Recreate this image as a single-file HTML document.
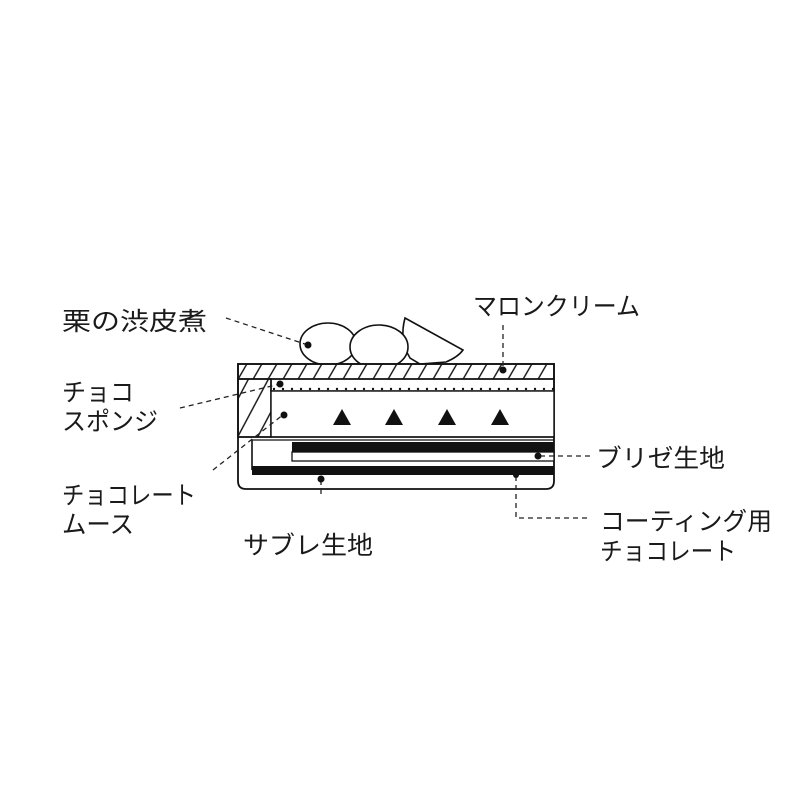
<!DOCTYPE html>
<html><head><meta charset="utf-8"><style>
html,body{margin:0;padding:0;background:#fff;}
svg{display:block;}
text{font-family:"Liberation Sans","Noto Sans CJK JP",sans-serif;fill:#1a1a1a;font-size:25px;}
</style></head><body>
<svg width="800" height="800" viewBox="0 0 800 800" xmlns="http://www.w3.org/2000/svg">
<defs>
<pattern id="h" patternUnits="userSpaceOnUse" width="15" height="15" patternTransform="skewX(-30)">
<line x1="7" y1="0" x2="7" y2="15" stroke="#111" stroke-width="1.6"/>
</pattern>
<pattern id="h2" patternUnits="userSpaceOnUse" width="20" height="20" patternTransform="skewX(-28)">
<line x1="10" y1="0" x2="10" y2="20" stroke="#111" stroke-width="1.6"/>
</pattern>
<pattern id="d" patternUnits="userSpaceOnUse" width="9" height="12">
<circle cx="4" cy="5" r="1.2" fill="#111"/>
</pattern>
</defs>
<!-- nuts -->
<path d="M405 318 Q399 340 410 358 L420 364 L446 362 Q458 357 463 350 Z" fill="#fff" stroke="#111" stroke-width="1.6"/>
<ellipse cx="328" cy="344" rx="28" ry="21" fill="#fff" stroke="#111" stroke-width="1.6"/>
<ellipse cx="379" cy="347" rx="29" ry="22" fill="#fff" stroke="#111" stroke-width="1.6"/>
<!-- box -->
<path d="M238 364 H554 V481 Q554 489 546 489 H246 Q238 489 238 481 Z" fill="#fff" stroke="#111" stroke-width="1.8"/>
<rect x="238" y="364" width="316" height="15" fill="url(#h)" stroke="#111" stroke-width="1.6"/>
<rect x="238" y="379" width="33" height="58" fill="url(#h2)" stroke="#111" stroke-width="1.6"/>
<rect x="271" y="379" width="283" height="12" fill="url(#d)" stroke="#111" stroke-width="1.4"/>
<rect x="271" y="391" width="283" height="46" fill="#fff" stroke="#111" stroke-width="1.4"/>
<line x1="238" y1="437" x2="554" y2="437" stroke="#111" stroke-width="1.6"/>
<line x1="252" y1="440" x2="554" y2="440" stroke="#111" stroke-width="1.2"/>
<g fill="#111">
<polygon points="342,409 333,425 351,425"/>
<polygon points="394,409 385,425 403,425"/>
<polygon points="447,409 438,425 456,425"/>
<polygon points="500,409 491,425 509,425"/>
</g>
<rect x="292" y="442" width="262" height="10" fill="#111"/>
<rect x="292" y="452" width="262" height="9" fill="#fff" stroke="#111" stroke-width="1.3"/>
<line x1="252" y1="440" x2="252" y2="470" stroke="#111" stroke-width="1.6"/>
<rect x="252" y="466" width="302" height="9" fill="#111"/>
<!-- leaders -->
<g stroke="#222" stroke-width="1.3" stroke-dasharray="5,4" fill="none">
<line x1="226" y1="318" x2="308" y2="345"/>
<line x1="503" y1="325" x2="503" y2="370"/>
<line x1="180" y1="408" x2="280" y2="384"/>
<line x1="213" y1="470" x2="284" y2="414"/>
<line x1="540" y1="456" x2="590" y2="456"/>
<line x1="321" y1="480" x2="321" y2="495"/>
<polyline points="516,476 516,518 590,518"/>
</g>
<g fill="#111">
<circle cx="308" cy="345" r="3.5"/>
<circle cx="503" cy="370" r="3.5"/>
<circle cx="280" cy="384" r="3.5"/>
<circle cx="284" cy="415" r="3.5"/>
<circle cx="538" cy="456" r="3.5"/>
<circle cx="321" cy="479" r="3.5"/>
<circle cx="516" cy="475" r="3"/>
</g>
<!-- labels -->
<text x="62" y="330" textLength="145" lengthAdjust="spacingAndGlyphs" font-size="27">栗の渋皮煮</text>
<text x="62" y="401" textLength="72" lengthAdjust="spacingAndGlyphs">チョコ</text>
<text x="62" y="430" textLength="96" lengthAdjust="spacingAndGlyphs">スポンジ</text>
<text x="62" y="504" textLength="134" lengthAdjust="spacingAndGlyphs">チョコレート</text>
<text x="62" y="533" textLength="72" lengthAdjust="spacingAndGlyphs">ムース</text>
<text x="473" y="315" textLength="167" lengthAdjust="spacingAndGlyphs">マロンクリーム</text>
<text x="596" y="467" textLength="129" lengthAdjust="spacingAndGlyphs">ブリゼ生地</text>
<text x="600" y="530" textLength="172" lengthAdjust="spacingAndGlyphs">コーティング用</text>
<text x="600" y="560" textLength="136" lengthAdjust="spacingAndGlyphs">チョコレート</text>
<text x="243" y="554" textLength="130" lengthAdjust="spacingAndGlyphs">サブレ生地</text>
</svg>
</body></html>
